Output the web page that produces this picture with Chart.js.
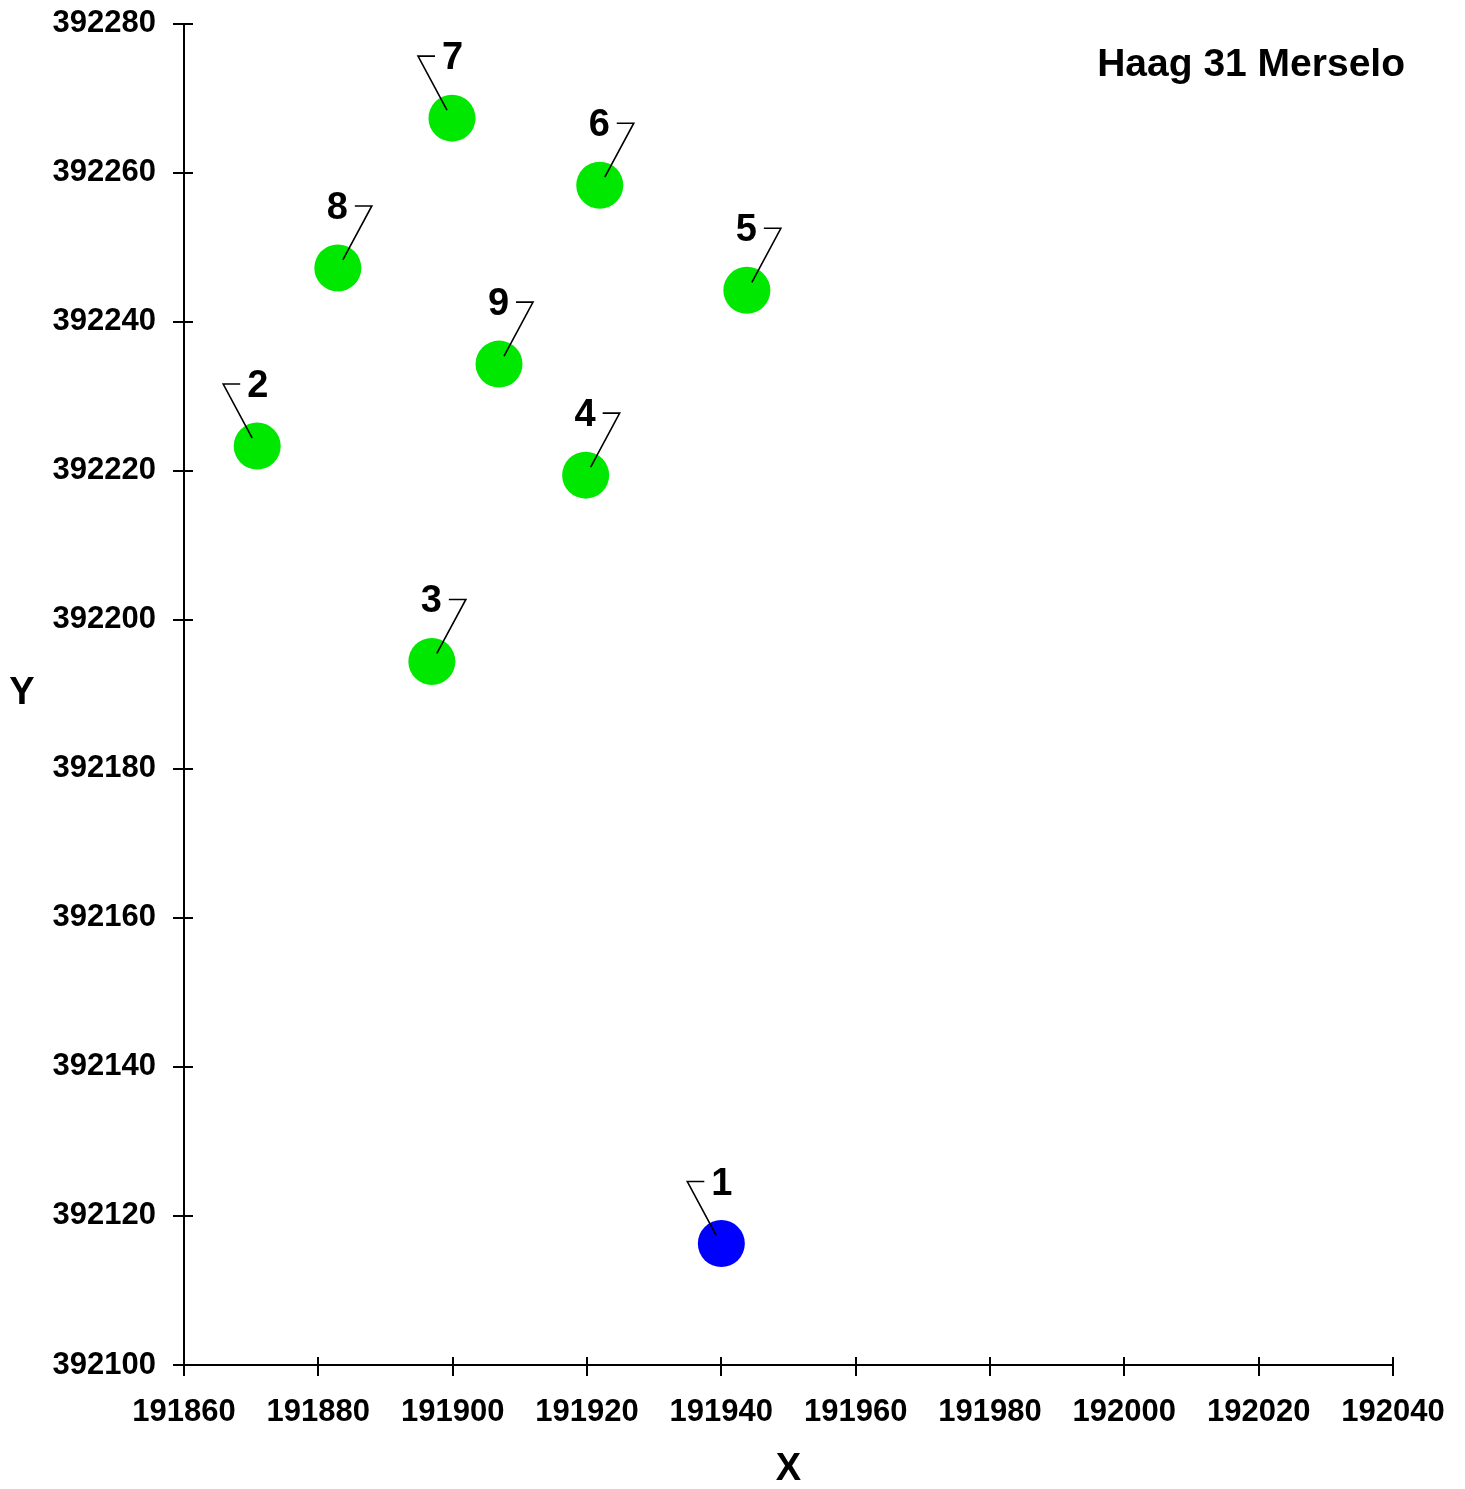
<!DOCTYPE html>
<html>
<head>
<meta charset="utf-8">
<title>Haag 31 Merselo</title>
<script src="https://cdn.jsdelivr.net/npm/chart.js@4/dist/chart.umd.min.js"></script>
<style>
    html, body { margin: 0; padding: 0; background: #fff; }
    .chart-wrap { width: 1465px; height: 1489px; position: relative; }
</style>
</head>
<body>
<div class="chart-wrap"><canvas id="haagChart"></canvas></div>
<script>
// point numbers and coordinates
const pointIds = ['1', '2', '3', '4', '5', '6', '7', '8', '9'];
const xValues = [191940, 191870.9, 191896.9, 191919.8, 191943.8, 191921.9, 191899.9, 191882.9, 191906.9];
const yValues = [392116.3, 392223.3, 392194.4, 392219.4, 392244.2, 392258.3, 392267.3, 392247.2, 392234.3];

// axis ranges
const xTicks = [191860, 191880, 191900, 191920, 191940, 191960, 191980, 192000, 192020, 192040];
const yTicks = [392100, 392120, 392140, 392160, 392180, 392200, 392220, 392240, 392260, 392280];

const chartTitle = 'Haag 31 Merselo';
const FONT = '"Liberation Sans", Arial, sans-serif';
const GREEN = '#00e800';
const BLUE = '#0000ff';

// labels whose leader goes up-left instead of up-right
const leftLeaning = ['1', '2', '7'];

const points = xValues.map((x, i) => ({ x, y: yValues[i] }));

// leader lines + point numbers
const pointLabels = {
    id: 'pointLabels',
    afterDatasetsDraw(chart) {
        const { ctx } = chart;
        const meta = chart.getDatasetMeta(0);

        ctx.save();
        ctx.strokeStyle = '#000';
        ctx.lineWidth = 1.6;
        ctx.fillStyle = '#000';
        ctx.font = 'bold 38px ' + FONT;
        ctx.textBaseline = 'alphabetic';

        meta.data.forEach((el, i) => {
            const cx = el.x;
            const cy = el.y;
            const left = leftLeaning.includes(pointIds[i]);
            const dir = left ? -1 : 1;

            ctx.beginPath();
            ctx.moveTo(cx + dir * 5, cy - 8);
            ctx.lineTo(cx + dir * 34, cy - 62);
            ctx.lineTo(cx + dir * 17, cy - 62);
            ctx.stroke();

            ctx.textAlign = left ? 'left' : 'right';
            ctx.fillText(pointIds[i], cx + dir * 10, cy - 49);
        });
        ctx.restore();
    },
};

// ticks cross the axis lines; chart.js draws the outer part only
const innerTicks = {
    id: 'innerTicks',
    afterDraw(chart) {
        const { ctx, scales } = chart;
        ctx.save();
        ctx.strokeStyle = '#000';
        ctx.lineWidth = 2;
        ctx.beginPath();
        xTicks.forEach(v => {
            const px = Math.round(scales.x.getPixelForValue(v));
            ctx.moveTo(px, scales.x.top);
            ctx.lineTo(px, scales.x.top - 8);
        });
        yTicks.forEach(v => {
            const py = Math.round(scales.y.getPixelForValue(v));
            ctx.moveTo(scales.y.right, py);
            ctx.lineTo(scales.y.right + 9, py);
        });
        ctx.stroke();

        // titles
        ctx.fillStyle = '#000';
        ctx.font = 'bold 39px ' + FONT;
        ctx.textBaseline = 'alphabetic';
        ctx.textAlign = 'right';
        ctx.fillText(chartTitle, 1405, 76);

        ctx.font = 'bold 38px ' + FONT;
        ctx.textAlign = 'center';
        ctx.fillText('X', (scales.x.left + scales.x.right) / 2, 1480);
        ctx.fillText('Y', 22, 704);
        ctx.restore();
    },
};

function axisOptions(min, max, afterFit, padding) {
    return {
        type: 'linear',
        min,
        max,
        afterFit,
        border: { display: true, color: '#000', width: 2 },
        grid: {
            drawOnChartArea: false,
            drawTicks: true,
            tickLength: 11,
            color: '#000',
            lineWidth: 2,
        },
        ticks: {
            stepSize: 20,
            padding,
            color: '#000',
            font: { family: FONT, size: 31, weight: 'bold' },
            callback: value => String(value),
        },
    };
}

new Chart(document.getElementById('haagChart'), {
    type: 'scatter',
    data: {
        datasets: [
            {
                label: chartTitle,
                data: points,
                pointRadius: 23.5,
                pointHoverRadius: 23.5,
                pointBorderWidth: 0,
                pointBackgroundColor: ctx => (ctx.dataIndex === 0 ? BLUE : GREEN),
                pointBorderColor: ctx => (ctx.dataIndex === 0 ? BLUE : GREEN),
            },
        ],
    },
    options: {
        responsive: true,
        maintainAspectRatio: false,
        animation: false,
        layout: { padding: { left: 0, right: 72, top: 22, bottom: 0 } },
        plugins: {
            legend: { display: false },
            tooltip: { enabled: false },
        },
        scales: {
            x: axisOptions(xTicks[0], xTicks[xTicks.length - 1], scale => {
                scale.height = 124;
                scale.paddingLeft = 0;
                scale.paddingRight = 0;
            }, 18),
            y: axisOptions(yTicks[0], yTicks[yTicks.length - 1], scale => {
                scale.width = 184;
                scale.paddingTop = 0;
                scale.paddingBottom = 0;
            }, 17),
        },
    },
    plugins: [pointLabels, innerTicks],
});
</script>
</body>
</html>
